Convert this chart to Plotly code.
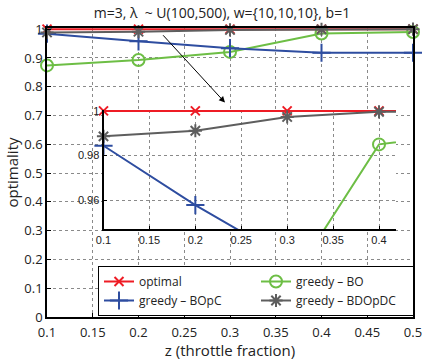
import plotly.graph_objects as go

# throttle fractions
z = [0.1, 0.2, 0.3, 0.4, 0.5]

# optimality per strategy
optimal = [1.0, 1.0, 1.0, 1.0, 1.0]
greedy_bo = [0.874, 0.893, 0.921, 0.985, 0.990]
greedy_bopc = [0.9844, 0.9578, 0.934, 0.918, 0.918]
greedy_bdopdc = [0.9886, 0.9911, 0.9973, 0.9996, 0.9998]

series_names = ["optimal", "greedy – BO", "greedy – BOpC", "greedy – BDOpDC"]

x_ticks = [0.1, 0.15, 0.2, 0.25, 0.3, 0.35, 0.4, 0.45, 0.5]
x_tick_text = ["0.1", "0.15", "0.2", "0.25", "0.3", "0.35", "0.4", "0.45", "0.5"]
y_ticks = [0, 0.1, 0.2, 0.3, 0.4, 0.5, 0.6, 0.7, 0.8, 0.9, 1]
y_tick_text = ["0", "0.1", "0.2", "0.3", "0.4", "0.5", "0.6", "0.7", "0.8", "0.9", "1"]

inset_x_ticks = [0.1, 0.15, 0.2, 0.25, 0.3, 0.35, 0.4]
inset_x_text = ["0.1", "0.15", "0.2", "0.25", "0.3", "0.35", "0.4"]
inset_y_ticks = [0.96, 0.98, 1.0]
inset_y_text = ["0.96", "0.98", "1"]

title_text = "m=3, λ  ~ U(100,500), w={10,10,10}, b=1"

colors = ["#EE1C25", "#6DBE45", "#2E4DA0", "#5E5E5E"]
symbols = ["x-thin-open", "circle-open", "cross-thin-open", "asterisk-open"]
sizes = [9, 12, 13, 11]
series = [optimal, greedy_bo, greedy_bopc, greedy_bdopdc]

MAIN_FONT = "Open Sans, Lato, sans-serif"
INSET_FONT = "Liberation Sans, Arial, sans-serif"

inset_xr = [0.1, 0.4185]
inset_yr = [0.9471, 1.0004]

fig = go.Figure()

for name, vals, c, s, sz in zip(series_names, series, colors, symbols, sizes):
    fig.add_trace(go.Scatter(
        x=z, y=vals, name=name, mode="lines+markers",
        line=dict(color=c, width=2),
        marker=dict(symbol=s, size=sz, color=c, line=dict(color=c, width=2)),
        cliponaxis=False, xaxis="x", yaxis="y",
    ))

# zoomed view: lines are clipped, markers inside the window are drawn unclipped
for name, vals, c, s, sz in zip(series_names, series, colors, symbols, sizes):
    fig.add_trace(go.Scatter(
        x=z, y=vals, mode="lines", showlegend=False,
        line=dict(color=c, width=2), xaxis="x2", yaxis="y2",
    ))
    keep = [(a, b) for a, b in zip(z, vals)
            if inset_xr[0] <= a <= inset_xr[1] and inset_yr[0] <= b <= inset_yr[1] + 0.001]
    fig.add_trace(go.Scatter(
        x=[a for a, _ in keep], y=[b for _, b in keep], mode="markers",
        showlegend=False, cliponaxis=False,
        marker=dict(symbol=s, size=sz, color=c, line=dict(color=c, width=2)),
        xaxis="x2", yaxis="y2",
    ))

grid = dict(showgrid=True, gridcolor="#8a8a8a", griddash="dot", gridwidth=1)
axis_common = dict(automargin=False, zeroline=False, tickcolor="black")

fig.update_layout(
    width=422, height=360,
    margin=dict(l=0, r=0, t=0, b=0, autoexpand=False),
    paper_bgcolor="white", plot_bgcolor="white",
    font=dict(family=MAIN_FONT, size=13, color="#222"),
    title=dict(text=title_text, x=0.526, xanchor="center", y=0.965, yanchor="middle",
               font=dict(size=14, family=MAIN_FONT, color="#222")),
    xaxis=dict(domain=[47 / 422, 413 / 422], range=[0.1, 0.5], tickvals=x_ticks,
               ticktext=x_tick_text, showline=True, linecolor="black", linewidth=1.5,
               mirror=True, ticks="inside", ticklen=4, ticklabeloverflow="allow",
               ticklabelstandoff=3,
               title=dict(text="z (throttle fraction)", standoff=2, font=dict(size=15)),
               tickfont=dict(size=13), **grid, **axis_common),
    yaxis=dict(domain=[1 - 317 / 360, 1 - 28 / 360], range=[0, 1.004], tickvals=y_ticks,
               ticktext=y_tick_text, showline=True, linecolor="black", linewidth=1.5,
               mirror=True, ticks="inside", ticklen=4, ticklabeloverflow="allow",
               title=dict(text="optimality", standoff=2, font=dict(size=15)),
               tickfont=dict(size=13), **grid, **axis_common),
    xaxis2=dict(domain=[103.5 / 422, 396 / 422], range=inset_xr, anchor="y2",
                tickvals=inset_x_ticks, ticktext=inset_x_text, showline=True,
                linecolor="black", linewidth=2, mirror=False, ticks="inside",
                ticklen=3, tickfont=dict(size=11, family=INSET_FONT, color="#222"),
                **grid, **axis_common),
    yaxis2=dict(domain=[1 - 229 / 360, 1 - 110 / 360], range=inset_yr, anchor="x2",
                tickvals=inset_y_ticks, ticktext=inset_y_text, showline=True,
                linecolor="black", linewidth=2, mirror=False, ticks="inside",
                ticklen=3, tickfont=dict(size=11, family=INSET_FONT, color="#222"),
                **grid, **axis_common),
    # two rows of two entries so the box fits under the zoomed panel's labels
    legend=dict(orientation="h", x=414 / 422, xanchor="right", y=1 - 316 / 360,
                yanchor="bottom", bgcolor="white", bordercolor="black", borderwidth=1,
                font=dict(size=12, family=MAIN_FONT, color="#222"),
                tracegroupgap=0, itemwidth=30, entrywidth=112),
    showlegend=True,
)

fig.add_annotation(
    x=0.2945, y=0.745, ax=0.2254, ay=0.984,
    xref="x", yref="y", axref="x", ayref="y",
    showarrow=True, arrowhead=2, arrowsize=1.2, arrowwidth=1, arrowcolor="black", text="",
)

fig.write_html("out.html")
